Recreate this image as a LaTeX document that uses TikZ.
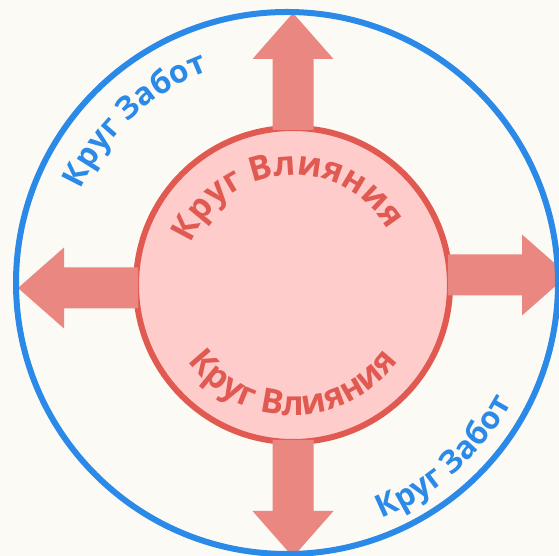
\documentclass[tikz,border=0pt]{standalone}
\usepackage{fontspec}
\setmainfont{Open Sans}
\usepackage{tikz}
\usetikzlibrary{decorations.text}
\definecolor{careblue}{HTML}{2B8AE8}
\definecolor{inflred}{HTML}{E05A52}
\definecolor{inflfill}{HTML}{FFCCCC}
\definecolor{arrowred}{HTML}{E98780}
\definecolor{paper}{HTML}{FBFAF5}
\def\shaftW{20.5}
\def\headW{40.5}
\def\headL{46}
\newcommand{\inflfont}{\fontsize{34}{40}\selectfont\bfseries}
\newcommand{\carefont}{\fontsize{31.5}{37}\selectfont\bfseries}
\newcommand{\bigarrow}[3]{%
% #1 = direction, #2 = sideways shift, #3 = tip distance
\begin{scope}[shift={(influence.center)}, rotate=#1]
\fill[arrowred]
(155,{#2-\shaftW}) -- ({#3-\headL},{#2-\shaftW})
-- ({#3-\headL},{#2-\headW}) -- (#3,#2)
-- ({#3-\headL},{#2+\headW}) -- ({#3-\headL},{#2+\shaftW})
-- (155,{#2+\shaftW}) -- cycle;
\end{scope}
}

\begin{document}
\begin{tikzpicture}[
    x=1pt, y=1pt,
    ring/.style={circle, inner sep=0pt, line width=6pt}
]
\useasboundingbox (0,0) rectangle (559,556);
\fill[paper] (0,0) rectangle (559,556);

\node[ring, draw=inflred, fill=inflfill, minimum size=314pt] (influence) at (293,271) {};
\bigarrow{0}{10}{275}
\bigarrow{90}{0}{272}
\bigarrow{180}{3}{275}
\bigarrow{270}{0}{272}
\node[ring, draw=careblue, minimum size=542pt] (concern) at (287,273) {};

% labels along the circles
\path[decorate, decoration={text along path, text align=center,
    text={|\inflfont\color{inflred}|Круг Влияния}}]
    ([shift={(influence.center)}]184:110) arc[start angle=184, end angle=4, radius=110];
\path[decorate, decoration={text along path, text align=center,
    text={|\inflfont\color{inflred}|Круг Влияния}}]
    ([shift={(influence.center)}]190:130) arc[start angle=190, end angle=350, radius=130];
\path[decorate, decoration={text along path, text align=center,
    text={|\carefont\color{careblue}|Круг Забот}}]
    ([shift={(concern.center)}]178:226) arc[start angle=178, end angle=88, radius=226];
\path[decorate, decoration={text along path, text align=center,
    text={|\carefont\color{careblue}|Круг Забот}}]
    ([shift={(concern.center)}]-93:254) arc[start angle=-93, end angle=-3, radius=254];
\end{tikzpicture}
\end{document}
